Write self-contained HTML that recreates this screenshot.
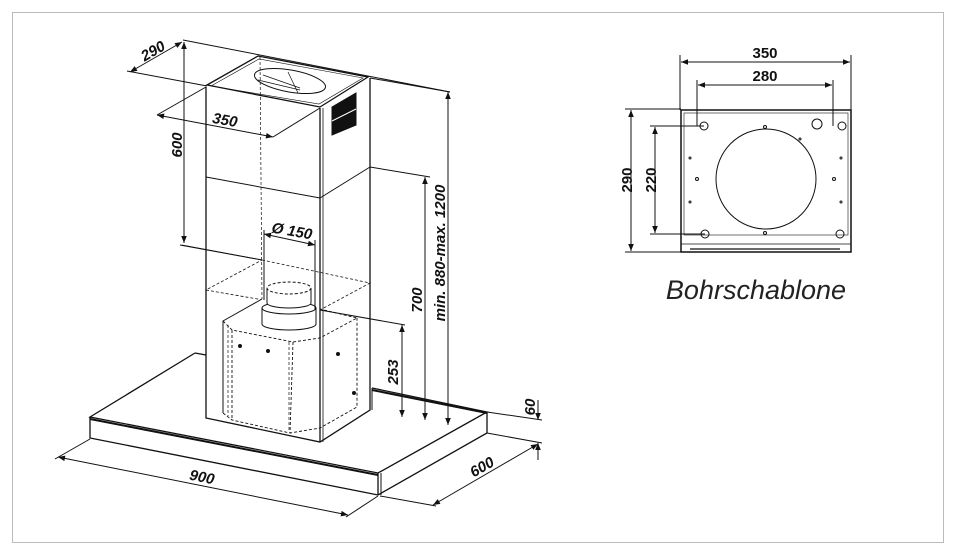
<!DOCTYPE html>
<html><head><meta charset="utf-8"><style>
html,body{margin:0;padding:0;background:#fff}
svg{display:block}
.t{font-family:"Liberation Sans",sans-serif;font-weight:bold;font-size:15px;fill:#111;font-style:italic}
</style></head><body>
<svg width="955" height="554" viewBox="0 0 955 554" xmlns="http://www.w3.org/2000/svg">
<defs>
<marker id="a" viewBox="0 0 10 10" refX="10" refY="5" markerWidth="9" markerHeight="7" orient="auto-start-reverse" markerUnits="userSpaceOnUse"><path d="M0,1 L10,5 L0,9 z" fill="#111"/></marker>
</defs>
<rect x="12.5" y="12.5" width="931" height="530" fill="none" stroke="#bbb" stroke-width="1"/>

<g stroke="#111" fill="none" stroke-width="1">
<polygon points="90,417 378,473 487,412 372,388" fill="#fff" stroke="none"/>
<polyline points="195,353 90,417 378,473 487,412 372,388" stroke-width="1.3"/>
<line x1="195" y1="353" x2="206" y2="355" stroke-width="1.3"/>
<polyline points="90,417 90,438 378,495 487,433 487,412" stroke-width="1.3"/>
<line x1="90" y1="419" x2="378" y2="475" stroke-width="2"/>
<line x1="378" y1="473" x2="378" y2="495" stroke-width="1.3"/>
<line x1="381" y1="473" x2="381" y2="495"/>
<line x1="372" y1="390" x2="487" y2="413" stroke-width="2"/>

<polygon points="207,85 258,56 368,77 370,410 320,442 206,418" fill="#fff" stroke="none"/>
<polyline points="206,87 206,418 320,442 370,410 370,78" stroke-width="1.3"/>
<line x1="206" y1="177" x2="320" y2="198" stroke-width="1"/>
<line x1="320" y1="198" x2="370" y2="167" stroke-width="1"/>
<polygon points="207,85 258,56 368,77 320,107" stroke-width="1.3"/>
<polygon points="211,86 259,59 363,78 319,104" stroke-width="0.6"/>
<ellipse cx="290" cy="81" rx="36" ry="11" transform="rotate(10 290 81)" stroke-width="1"/>
<path d="M258,80 L300,90 M263,75 L300,88 M288,72 L298,93" stroke-width="0.7"/>
<polygon points="332,107 356,93 356,125 332,135" fill="#111"/>
<line x1="332" y1="121" x2="356" y2="109" stroke="#fff" stroke-width="1"/>
<line x1="260" y1="57" x2="262" y2="300" stroke-dasharray="3,2" stroke-width="0.7"/>
<polyline points="182,245 262,260" stroke-width="0.8"/>
<polyline points="262,260 370,283 320,310 206,290 262,260" stroke-dasharray="3,2" stroke-width="0.8"/>
<polygon points="223,321 262,299 320,309 357,318 357,407 320,428 290,433 232,420 223,413" fill="#fff" stroke="none"/>
<polyline points="223,413 223,321 262,299" stroke-width="1"/>
<polyline points="223,321 232,330 293,342 320,338 357,318 320,309" stroke-dasharray="3,2" stroke-width="0.9"/>
<polyline points="223,413 232,420 290,433 320,428 357,407 357,318" stroke-dasharray="3,2" stroke-width="0.9"/>
<line x1="232" y1="330" x2="232" y2="420" stroke-dasharray="3,2" stroke-width="0.9"/>
<line x1="293" y1="342" x2="290" y2="433" stroke-dasharray="3,2" stroke-width="0.9"/>
<line x1="228" y1="325" x2="228" y2="416" stroke-dasharray="3,2" stroke-width="0.7"/>
<line x1="289" y1="342" x2="289" y2="432" stroke-dasharray="3,2" stroke-width="0.7"/>
<line x1="320" y1="108" x2="320" y2="442" stroke-width="1.3"/>
<line x1="323" y1="108" x2="323" y2="442" stroke-width="0.8"/>
<path d="M262,308 L262,324 A27,6 0 0 0 316,324 L316,308" fill="#fff"/>
<ellipse cx="289" cy="308" rx="27" ry="6" fill="#fff"/>
<path d="M267,288 L267,303 A22,5 0 0 0 311,303 L311,288" fill="#fff"/>
<ellipse cx="289" cy="288" rx="22" ry="6" fill="#fff" stroke-dasharray="3,2"/>
<circle cx="240" cy="346" r="1.5" fill="#111"/><circle cx="268" cy="351" r="1.5" fill="#111"/><circle cx="338" cy="354" r="1.5" fill="#111"/><circle cx="354" cy="393" r="1.5" fill="#111"/>

<line x1="130" y1="72" x2="182" y2="42" marker-start="url(#a)" marker-end="url(#a)"/>
<line x1="183" y1="40" x2="450" y2="92"/>
<line x1="127" y1="71" x2="207" y2="86"/>
<line x1="184" y1="42" x2="184" y2="243" marker-start="url(#a)" marker-end="url(#a)"/>
<line x1="180" y1="245" x2="262" y2="260"/>
<line x1="157" y1="115" x2="273" y2="137" marker-start="url(#a)" marker-end="url(#a)"/>
<line x1="157" y1="115" x2="206" y2="87"/>
<line x1="273" y1="137" x2="320" y2="108"/>
<line x1="264" y1="234" x2="315" y2="245" marker-start="url(#a)" marker-end="url(#a)"/>
<line x1="264" y1="230" x2="264" y2="300"/>
<line x1="315" y1="240" x2="315" y2="310"/>
<line x1="370" y1="78" x2="450" y2="92"/>
<line x1="448" y1="92" x2="448" y2="425" marker-start="url(#a)" marker-end="url(#a)"/>
<line x1="370" y1="167" x2="430" y2="177"/>
<line x1="425" y1="177" x2="425" y2="420" marker-start="url(#a)" marker-end="url(#a)"/>
<line x1="320" y1="310" x2="405" y2="325"/>
<line x1="402" y1="325" x2="402" y2="417" marker-start="url(#a)" marker-end="url(#a)"/>
<line x1="372" y1="388" x2="372" y2="410"/>
<line x1="487" y1="412" x2="542" y2="420"/>
<line x1="487" y1="433" x2="542" y2="443"/>
<line x1="538" y1="400" x2="538" y2="420" marker-end="url(#a)"/>
<line x1="538" y1="460" x2="538" y2="443" marker-end="url(#a)"/>
<line x1="433" y1="505" x2="538" y2="444" marker-start="url(#a)" marker-end="url(#a)"/>
<line x1="380" y1="496" x2="436" y2="506"/>
<line x1="58" y1="457" x2="348" y2="515" marker-start="url(#a)" marker-end="url(#a)"/>
<line x1="90" y1="439" x2="55" y2="459"/>
<line x1="378" y1="496" x2="346" y2="517"/>
</g>

<g class="t">
<text x="153" y="56" text-anchor="middle" transform="rotate(-30 153 51)">290</text>
<text x="177" y="150" text-anchor="middle" transform="rotate(-90 177 145)">600</text>
<text x="225" y="125" text-anchor="middle" transform="rotate(10 225 120)">350</text>
<text x="292" y="236" text-anchor="middle" transform="rotate(10 292 231)">Ø 150</text>
<text x="440" y="258" text-anchor="middle" transform="rotate(-90 440 253)">min. 880-max. 1200</text>
<text x="417" y="305" text-anchor="middle" transform="rotate(-90 417 300)">700</text>
<text x="393" y="377" text-anchor="middle" transform="rotate(-90 393 372)">253</text>
<text x="530" y="412" text-anchor="middle" transform="rotate(-90 530 407)">60</text>
<text x="482" y="472" text-anchor="middle" transform="rotate(-30 482 467)">600</text>
<text x="202" y="482" text-anchor="middle" transform="rotate(11 202 477)">900</text>
</g>

<g stroke="#111" fill="none" stroke-width="1">
<rect x="681" y="110" width="170" height="142" stroke-width="1.5"/>
<rect x="684" y="113" width="164" height="122" stroke-width="0.6"/>
<line x1="681" y1="244" x2="851" y2="244" stroke-width="0.8"/>
<line x1="690" y1="249" x2="840" y2="249" stroke-width="1.2"/>
<circle cx="766" cy="179" r="50"/>
<circle cx="704" cy="126" r="4"/><circle cx="842" cy="126" r="4"/>
<circle cx="817" cy="124" r="5"/><circle cx="705" cy="234" r="4"/><circle cx="840" cy="234" r="4"/>
<circle cx="765" cy="127" r="1.5"/><circle cx="765" cy="233" r="1.5"/>
<circle cx="697" cy="179" r="1.5"/><circle cx="834" cy="179" r="1.5"/>
<circle cx="690" cy="158" r="1"/><circle cx="841" cy="158" r="1"/>
<circle cx="690" cy="202" r="1"/><circle cx="841" cy="202" r="1"/>
<circle cx="800" cy="139" r="1"/>
<line x1="680" y1="55" x2="680" y2="110"/>
<line x1="851" y1="55" x2="851" y2="110"/>
<line x1="681" y1="62" x2="850" y2="62" marker-start="url(#a)" marker-end="url(#a)"/>
<line x1="697" y1="80" x2="697" y2="126"/>
<line x1="833" y1="80" x2="833" y2="126"/>
<line x1="698" y1="85" x2="832" y2="85" marker-start="url(#a)" marker-end="url(#a)"/>
<line x1="625" y1="109" x2="681" y2="109"/>
<line x1="625" y1="252" x2="681" y2="252"/>
<line x1="631" y1="110" x2="631" y2="251" marker-start="url(#a)" marker-end="url(#a)"/>
<line x1="650" y1="126" x2="704" y2="126"/>
<line x1="650" y1="234" x2="705" y2="234"/>
<line x1="655" y1="127" x2="655" y2="233" marker-start="url(#a)" marker-end="url(#a)"/>
</g>
<g class="t" style="font-style:normal">
<text x="765" y="58" text-anchor="middle">350</text>
<text x="765" y="81" text-anchor="middle">280</text>
<text x="627" y="185" text-anchor="middle" transform="rotate(-90 627 180)">290</text>
<text x="651" y="185" text-anchor="middle" transform="rotate(-90 651 180)">220</text>
</g>
<text x="756" y="299" text-anchor="middle" style="font-family:'Liberation Sans',sans-serif;font-size:27px;font-style:italic;fill:#222">Bohrschablone</text>
</svg>
</body></html>
